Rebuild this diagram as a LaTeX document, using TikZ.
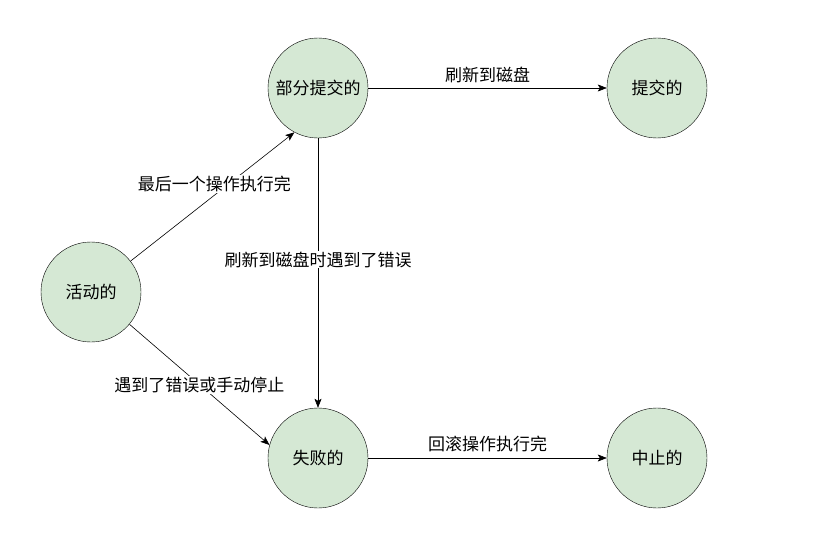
\documentclass[tikz,border=0pt]{standalone}
\usepackage{fontspec}
\setmainfont{Noto Sans CJK SC}
\usetikzlibrary{arrows.meta}
\definecolor{stategreen}{HTML}{D5E8D4}

\begin{document}
\begin{tikzpicture}[
x=1pt, y=-1pt,
font=\fontsize{17}{20}\selectfont,
state/.style={draw, circle, fill=stategreen, minimum size=100pt, inner sep=0pt},
arrow/.style={-{Stealth[length=9pt, width=7pt, inset=2pt]}, semithick},
lbl/.style={fill=white, inner sep=1pt}
]

\useasboundingbox (0,0) rectangle (828,535);

\node[state] (active) at (91,292) {活动的};
\node[state] (partial) at (318,88) {部分提交的};
\node[state] (committed) at (657,88) {提交的};
\node[state] (failed) at (318,458) {失败的};
\node[state] (aborted) at (657,458) {中止的};

\draw[arrow] (active.38) -- node[lbl, pos=0.5, xshift=2pt, yshift=13pt] {最后一个操作执行完} (partial.242);
\draw[arrow] (active.-40) -- node[lbl, pos=0.5] {遇到了错误或手动停止} (failed.165);
\draw[arrow] (partial) -- node[lbl, pos=0.45] {刷新到磁盘时遇到了错误} (failed);
\draw[arrow] (partial) -- node[above=2pt] {刷新到磁盘} (committed);
\draw[arrow] (failed) -- node[above=2pt] {回滚操作执行完} (aborted);

\end{tikzpicture}
\end{document}
